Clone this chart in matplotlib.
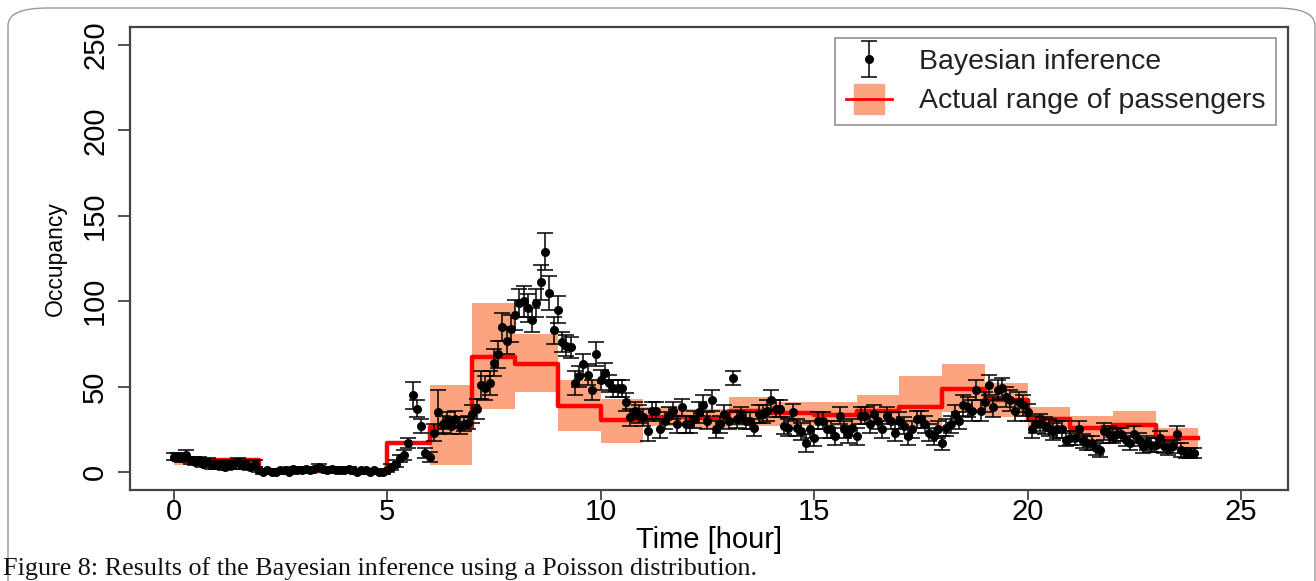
import numpy as np
import matplotlib.pyplot as plt
from matplotlib.lines import Line2D
from matplotlib.patches import FancyBboxPatch
from matplotlib.container import ErrorbarContainer
from matplotlib.legend_handler import HandlerErrorbar, HandlerTuple

plt.rcParams['font.family'] = ['Liberation Sans', 'DejaVu Sans']

# hourly counts of actual passengers (range and representative value)
hour_start = list(range(24))
actual_mid = [7, 7, 0.5, 0.5, 0.5, 17, 26.5, 67.5, 63.5, 38.5, 30.5, 32,
              31.5, 36, 34.5, 33.5, 36, 38, 48.5, 42, 31, 25.5, 27.5, 20]
actual_lo = [4, 4, 0, 0, 0, 17, 4, 37, 47, 24, 17, 27,
             25, 27, 27, 27, 28, 27, 35, 32, 25, 19, 21, 14]
actual_hi = [8.5, 8.5, 1, 1, 1, 17, 51, 99, 81, 54, 43, 38,
             37, 44, 41, 41, 45, 56, 63, 52, 38, 33, 36, 26]

# Bayesian estimates every 0.1 hour
occ = [9, 9, 8, 10, 7, 6, 7, 5, 6, 4, 4, 5, 3, 5, 4, 6, 4, 5, 3, 5,
       1, 0, 1, 0, 0, 1, 1, 0, 2, 1, 1, 2, 1, 2, 3, 2, 1, 2, 1, 1,
       1, 2, 1, 0, 1, 1, 0, 1, 0, 0,
       1, 3, 5, 8, 10, 17, 45, 37, 27, 11,
       9, 23, 35, 28, 30, 27, 31, 27, 28, 29,
       34, 37, 51, 49, 52, 64, 69, 85, 77, 84,
       92, 99, 100, 96, 89, 99, 111, 129, 105, 83,
       95, 76, 74, 73, 52, 56, 63, 57, 48, 69,
       54, 58, 52, 49, 49, 49, 41, 32, 36, 34,
       32, 24, 36, 36, 25, 30, 33, 36, 28, 38,
       28, 28, 31, 35, 39, 30, 42, 25, 28, 34,
       30, 55, 31, 33, 30, 30, 26, 34, 34, 36,
       42, 37, 37, 27, 26, 35, 26, 24, 17, 25,
       20, 30, 30, 25, 25, 21, 33, 25, 22, 26,
       21, 33, 33, 28, 34, 30, 25, 33, 30, 23,
       30, 27, 21, 25, 31, 31, 28, 23, 21, 25,
       17, 26, 28, 34, 30, 39, 38, 36, 48, 36,
       41, 51, 38, 48, 49, 44, 42, 36, 41, 39,
       35, 25, 28, 29, 27, 26, 24, 25, 25, 19,
       20, 20, 25, 18, 17, 17, 14, 13, 24, 22,
       21, 22, 22, 19, 17, 22, 19, 15, 17, 16,
       16, 20, 15, 14, 15, 22, 13, 11, 11, 11]
occ_err = [2, 2, 2, 3, 2, 2, 2, 2, 2, 2, 2, 2, 2, 2, 2, 2, 2, 2, 2, 2,
           1, 1, 1, 1, 1, 1, 1, 1, 1, 1, 1, 1, 1, 1, 2, 1, 1, 1, 1, 1,
           1, 1, 1, 1, 1, 1, 1, 1, 1, 1,
           1, 2, 2, 2, 3, 3, 8, 5, 4, 3,
           3, 5, 13, 5, 5, 5, 5, 5, 4, 4,
           5, 6, 8, 7, 7, 8, 8, 8, 8, 8,
           9, 8, 9, 8, 7, 8, 10, 11, 10, 8,
           8, 6, 6, 6, 7, 6, 6, 6, 6, 7,
           6, 6, 5, 5, 5, 5, 5, 5, 5, 5,
           5, 6, 5, 5, 5, 5, 5, 5, 5, 5,
           5, 5, 5, 6, 6, 5, 6, 5, 5, 5,
           5, 4, 5, 5, 5, 5, 5, 5, 5, 6,
           6, 5, 5, 5, 5, 5, 5, 5, 5, 5,
           5, 5, 5, 5, 5, 5, 5, 5, 5, 5,
           5, 5, 5, 5, 5, 5, 5, 5, 5, 5,
           5, 5, 5, 5, 5, 5, 5, 5, 5, 5,
           4, 5, 5, 5, 5, 6, 6, 6, 6, 6,
           6, 6, 6, 6, 6, 6, 6, 6, 6, 6,
           5, 5, 5, 5, 5, 5, 5, 5, 5, 4,
           4, 4, 5, 4, 4, 4, 4, 4, 5, 5,
           4, 4, 4, 4, 4, 5, 4, 4, 4, 4,
           4, 4, 4, 4, 4, 5, 4, 3, 3, 3]
occ_time = np.arange(len(occ)) * 0.1

xticks = [0, 5, 10, 15, 20, 25]
yticks = [0, 50, 100, 150, 200, 250]

salmon = '#FCA380'
axis_col = '#444444'

fig = plt.figure(figsize=(13.16, 5.81), dpi=100)
ax = fig.add_axes([130 / 1316, 1 - 490 / 581, 1158 / 1316, 463 / 581])

# shaded hourly range
ax.bar(hour_start, np.array(actual_hi) - np.array(actual_lo), bottom=actual_lo,
       width=1, align='edge', color=salmon, linewidth=0, zorder=1)
# red step line
ax.step(hour_start + [24], actual_mid + [actual_mid[-1]], where='post',
        color='red', lw=3.2, zorder=2)
# estimates with error bars
eb = ax.errorbar(occ_time, occ, yerr=occ_err, fmt='o', color='black', ms=5.5,
                 ecolor='black', elinewidth=1.1, capsize=6, capthick=1.1, zorder=3)

ax.set_xlim(-1.02, 26.1)
ax.set_ylim(-10.5, 260.5)
ax.set_xticks(xticks)
ax.set_yticks(yticks)
ax.set_yticklabels([str(v) for v in yticks], rotation=90, va='center')
ax.tick_params(axis='x', labelsize=21, length=7, width=1.3, color=axis_col, pad=-1)
ax.tick_params(axis='y', labelsize=21, length=9, width=1.3, color=axis_col, pad=6)
for s in ax.spines.values():
    s.set_color(axis_col)
    s.set_linewidth(1.6)
ax.set_xlabel('Time [hour]', fontsize=21, labelpad=0)
ax.set_ylabel('Occupancy', fontsize=16.5, labelpad=10)

band_handle = (Line2D([], [], marker='s', ms=21, color=salmon, ls=''),
               Line2D([], [], color='red', lw=2))
leg = ax.legend([eb, band_handle], ['Bayesian inference', 'Actual range of passengers'],
                loc='upper right', bbox_to_anchor=(1 - 12 / 1158, 1 - 11 / 463),
                borderaxespad=0, fontsize=20.5, fancybox=False, framealpha=1,
                edgecolor='#888888', handlelength=1.6, handletextpad=0.95,
                labelspacing=0.48, borderpad=0.38,
                handler_map={ErrorbarContainer: HandlerErrorbar(yerr_size=0.62),
                             tuple: HandlerTuple(ndivide=1)})
leg.get_frame().set_linewidth(1.1)
for t in leg.get_texts():
    t.set_color('#222222')

# rounded page frame and caption
frame = FancyBboxPatch((8 / 1316, -0.2), (1315 - 8) / 1316, 1.2 - 8 / 581,
                       boxstyle='round,pad=0,rounding_size=0.03',
                       transform=fig.transFigure, fill=False, edgecolor='#999999',
                       lw=1.0, zorder=0)
fig.patches.append(frame)
fig.text(3 / 1316, 1 - 569 / 581, 'Figure 8: Results of the Bayesian inference using a Poisson distribution.',
         family=['Liberation Serif', 'DejaVu Serif'], fontsize=18.8, va='center', ha='left', color='#111111')

fig.savefig('out.png', dpi=100)
